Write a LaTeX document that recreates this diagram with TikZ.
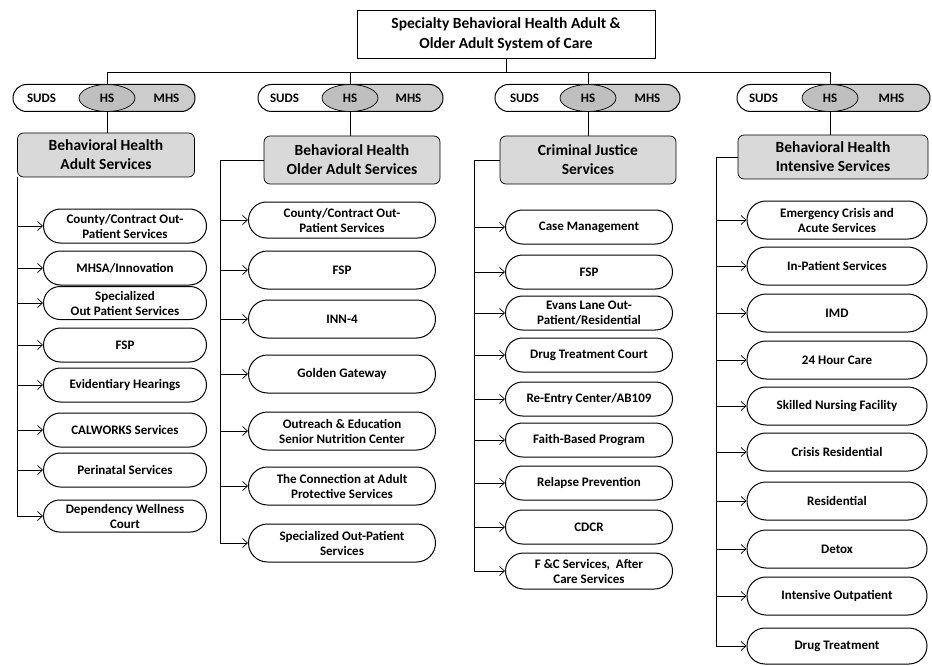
\documentclass[tikz,border=0pt]{standalone}
\usepackage{fontspec}
\setmainfont{Carlito}
\usetikzlibrary{arrows.meta}
\usetikzlibrary{shapes.misc}
\usetikzlibrary{shapes.geometric}
\tikzset{arr/.style = {line width=0.7pt, -{Straight Barb[length=5pt, width=9pt]}}}
\tikzset{line/.style = {line width=0.7pt}}
\tikzset{topbox/.style = {draw, line width=0.8pt, minimum width=298, minimum height=48,
                          align=center, font=\fontsize{15.5}{20}\selectfont\bfseries}}
\tikzset{pill/.style = {draw, rounded rectangle, line width=1pt, minimum height=27, inner sep=0}}
\tikzset{pillshade/.style = {rounded rectangle, rounded rectangle west arc=none, fill=gray!40,
                             minimum height=27, inner sep=0}}
\tikzset{hs/.style = {draw, ellipse, fill=gray!50, line width=0.7pt, minimum width=56,
                      minimum height=27, inner sep=0, font=\fontsize{13}{15}\selectfont\bfseries}}
\tikzset{tag/.style = {font=\fontsize{13}{15}\selectfont\bfseries, inner sep=0}}
\tikzset{head/.style = {draw, fill=gray!30, rounded corners=6, line width=0.7pt, align=center,
                        inner sep=1pt, font=\fontsize{15.5}{19}\selectfont\bfseries}}
\tikzset{item/.style 2 args = {draw, rounded rectangle, line width=1pt, minimum width=#1,
                               minimum height=#2, inner sep=0.5pt, align=center,
                               font=\fontsize{13}{15}\selectfont\bfseries}}

\begin{document}
\begin{tikzpicture}[x=1pt, y=-1pt]
  \useasboundingbox (0, 0) rectangle (932, 666);

  % system of care
  \node (top) at (506, 34) [topbox] {Specialty Behavioral Health Adult \&\\Older Adult System of Care};
  \coordinate (bus) at (0, 72);

  % SUDS / HS / MHS pills
  \node (ps1) at (151, 98) [pillshade, minimum width=88] {};
  \node (p1) at (104, 98) [pill, minimum width=182] {};
  \node (hs1) at (107, 98) [hs] {HS};
  \node (su1) at ([xshift=29]p1.west) [tag] {SUDS};
  \node (mh1) at ([xshift=-29]p1.east) [tag] {MHS};

  \node (ps2) at (396.5, 98) [pillshade, minimum width=93] {};
  \node (p2) at (350.5, 98) [pill, minimum width=185] {};
  \node (hs2) at (350, 98) [hs] {HS};
  \node (su2) at ([xshift=27]p2.west) [tag] {SUDS};
  \node (mh2) at ([xshift=-35]p2.east) [tag] {MHS};

  \node (ps3) at (634, 98) [pillshade, minimum width=92] {};
  \node (p3) at (587.5, 98) [pill, minimum width=185] {};
  \node (hs3) at (588, 98) [hs] {HS};
  \node (su3) at ([xshift=30]p3.west) [tag] {SUDS};
  \node (mh3) at ([xshift=-33]p3.east) [tag] {MHS};

  \node (ps4) at (880, 98) [pillshade, minimum width=100] {};
  \node (p4) at (833.5, 98) [pill, minimum width=193] {};
  \node (hs4) at (830, 98) [hs] {HS};
  \node (su4) at ([xshift=27]p4.west) [tag] {SUDS};
  \node (mh4) at ([xshift=-39]p4.east) [tag] {MHS};

  % headers
  \node (h1) at (106, 155) [head, minimum width=177, minimum height=44] {Behavioral Health\\Adult Services};
  \node (h2) at (352, 160) [head, minimum width=176, minimum height=48] {Behavioral Health\\Older Adult Services};
  \node (h3) at (588, 160) [head, minimum width=176, minimum height=48] {Criminal Justice\\Services};
  \node (h4) at (833, 157) [head, minimum width=190, minimum height=44] {Behavioral Health\\Intensive Services};

  % adult services
  \node (c1a) at (125, 226) [item={164}{34}] {County/Contract Out-\\Patient Services};
  \node (c1b) at (125, 268) [item={164}{34}] {MHSA/Innovation};
  \node (c1c) at (125, 303) [item={164}{33}] {Specialized\\Out Patient Services};
  \node (c1d) at (125, 345) [item={164}{34}] {FSP};
  \node (c1e) at (125, 385) [item={164}{34}] {Evidentiary Hearings};
  \node (c1f) at (125, 430) [item={164}{34}] {CALWORKS Services};
  \node (c1g) at (125, 470) [item={164}{34}] {Perinatal Services};
  \node (c1h) at (125, 516) [item={164}{32}] {Dependency Wellness\\Court};

  % older adult services
  \node (c2a) at (342, 220) [item={188}{36}] {County/Contract Out-\\Patient Services};
  \node (c2b) at (342, 270) [item={188}{38}] {FSP};
  \node (c2c) at (342, 319) [item={188}{38}] {INN-4};
  \node (c2d) at (342, 374) [item={188}{38}] {Golden Gateway};
  \node (c2e) at (342, 431) [item={188}{38}] {Outreach \& Education\\Senior Nutrition Center};
  \node (c2f) at (342, 486) [item={188}{38}] {The Connection at Adult\\Protective Services};
  \node (c2g) at (342, 543) [item={188}{38}] {Specialized Out-Patient\\Services};

  % criminal justice
  \node (c3a) at (589, 227) [item={168}{34}] {Case Management};
  \node (c3b) at (589, 272) [item={168}{34}] {FSP};
  \node (c3c) at (589, 313) [item={168}{34}] {Evans Lane Out-\\Patient/Residential};
  \node (c3d) at (589, 355) [item={168}{34}] {Drug Treatment Court};
  \node (c3e) at (589, 399) [item={168}{34}] {Re-Entry Center/AB109};
  \node (c3f) at (589, 440) [item={168}{34}] {Faith-Based Program};
  \node (c3g) at (589, 483) [item={168}{34}] {Relapse Prevention};
  \node (c3h) at (589, 527) [item={168}{34}] {CDCR};
  \node (c3i) at (589, 571) [item={168}{36}] {F \&C Services,\ \ After\\Care Services};

  % intensive services
  \node (c4a) at (837, 220) [item={181}{38}] {Emergency Crisis and\\Acute Services};
  \node (c4b) at (837, 266) [item={181}{38}] {In-Patient Services};
  \node (c4c) at (837, 313) [item={181}{38}] {IMD};
  \node (c4d) at (837, 360) [item={181}{38}] {24 Hour Care};
  \node (c4e) at (837, 406) [item={181}{38}] {Skilled Nursing Facility};
  \node (c4f) at (837, 452) [item={181}{38}] {Crisis Residential};
  \node (c4g) at (837, 501) [item={181}{38}] {Residential};
  \node (c4h) at (837, 549) [item={181}{38}] {Detox};
  \node (c4i) at (837, 596) [item={181}{38}] {Intensive Outpatient};
  \node (c4j) at (837, 646) [item={181}{36}] {Drug Treatment};

  % bus
  \draw [line] (top.south) -- (top.south |- bus);
  \draw [line] (hs1.north |- bus) -- (hs4.north |- bus);
  \foreach \i in {1,...,4} {
    \draw [line] (hs\i.north |- bus) -- (hs\i.north);
    \draw [line] (hs\i.south) -- (hs\i.south |- h\i.north);
  }

  % spines
  \coordinate (s2) at (220, 0);
  \coordinate (s3) at (474, 0);
  \coordinate (s4) at (716, 0);
  \draw [line] (h1.south west) -- (h1.south west |- c1h.west);
  \draw [line] (h2.west) -- (h2.west -| s2) -- (s2 |- c2g.west);
  \draw [line] (h3.west) -- (h3.west -| s3) -- (s3 |- c3i.west);
  \draw [line] (h4.west) -- (h4.west -| s4) -- (s4 |- c4j.west);

  \foreach \n in {a,...,h}
    \draw [arr] (c1\n.west -| h1.south west) -- (c1\n.west);
  \foreach \n in {a,...,g}
    \draw [arr] (c2\n.west -| s2) -- (c2\n.west);
  \foreach \n in {a,...,i}
    \draw [arr] (c3\n.west -| s3) -- (c3\n.west);
  \foreach \n in {a,...,j}
    \draw [arr] (c4\n.west -| s4) -- (c4\n.west);
\end{tikzpicture}
\end{document}
